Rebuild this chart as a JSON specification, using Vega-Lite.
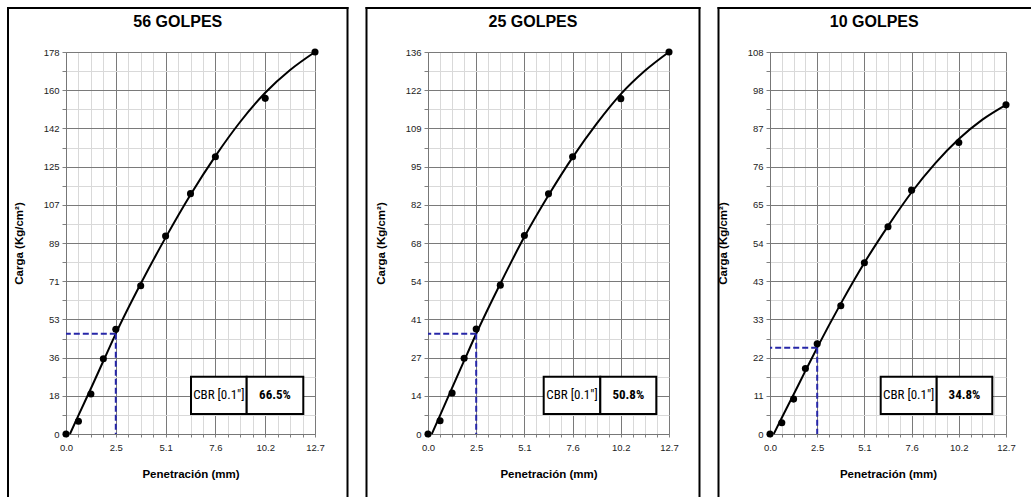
{
"$schema": "https://vega.github.io/schema/vega-lite/v6.json",
"padding": {"left": 6, "top": 6, "right": 0, "bottom": 0},
"background": "white",
"spacing": 16,
"config": {
  "font": "Liberation Sans",
  "view": {"stroke": null},
  "axis": {"labelFont": "Liberation Sans", "labelFontSize": 9.5, "labelColor": "#222222", "titleFont": "Liberation Sans", "titleFontSize": 11.5, "titleFontWeight": "bold", "titleColor": "#000000", "tickColor": "#808080", "domainColor": "#777777", "tickSize": 3, "tickCount": 25, "grid": true, "gridWidth": 1, "labelOverlap": false, "labelFlush": false, "labelBound": false},
  "title": {"font": "Liberation Sans"}
},
"datasets": {
  "p1": [{"pen":0,"carga":0},{"pen":0.635,"carga":5.9},{"pen":1.27,"carga":18.6},{"pen":1.905,"carga":35.1},{"pen":2.54,"carga":48.8},{"pen":3.81,"carga":69.1},{"pen":5.08,"carga":92.3},{"pen":6.35,"carga":112},{"pen":7.62,"carga":129.2},{"pen":10.16,"carga":156.4},{"pen":12.7,"carga":178}],
  "c1": [{"pen":0.2,"carga":0},{"pen":0.635,"carga":8.7},{"pen":1.27,"carga":21.2},{"pen":1.905,"carga":34},{"pen":2.54,"carga":46.8},{"pen":3.81,"carga":70},{"pen":5.08,"carga":91.5},{"pen":6.35,"carga":111.5},{"pen":7.62,"carga":129.5},{"pen":8.89,"carga":145.5},{"pen":10.16,"carga":159},{"pen":11.43,"carga":169.6},{"pen":12.7,"carga":178}],
  "k1": [{"pen":2.54,"carga":46.76,"label":"CBR [0.1\"]","cbr":"66.5%"}],
  "p2": [{"pen":0,"carga":0},{"pen":0.635,"carga":4.7},{"pen":1.27,"carga":14.6},{"pen":1.905,"carga":27},{"pen":2.54,"carga":37.4},{"pen":3.81,"carga":53},{"pen":5.08,"carga":70.7},{"pen":6.35,"carga":85.5},{"pen":7.62,"carga":98.7},{"pen":10.16,"carga":119.4},{"pen":12.7,"carga":136}],
  "c2": [{"pen":0.2,"carga":0},{"pen":0.635,"carga":6.6},{"pen":1.27,"carga":16.4},{"pen":1.905,"carga":26.1},{"pen":2.54,"carga":35.7},{"pen":3.81,"carga":53.5},{"pen":5.08,"carga":70.2},{"pen":6.35,"carga":85},{"pen":7.62,"carga":98.5},{"pen":8.89,"carga":110.5},{"pen":10.16,"carga":121},{"pen":11.43,"carga":129.3},{"pen":12.7,"carga":136}],
  "k2": [{"pen":2.54,"carga":35.72,"label":"CBR [0.1\"]","cbr":"50.8%"}],
  "p3": [{"pen":0,"carga":0},{"pen":0.635,"carga":3.2},{"pen":1.27,"carga":9.9},{"pen":1.905,"carga":18.6},{"pen":2.54,"carga":25.6},{"pen":3.81,"carga":36.4},{"pen":5.08,"carga":48.6},{"pen":6.35,"carga":58.8},{"pen":7.62,"carga":69.2},{"pen":10.16,"carga":82.7},{"pen":12.7,"carga":93.4}],
  "c3": [{"pen":0.2,"carga":0},{"pen":0.635,"carga":4.6},{"pen":1.27,"carga":11.2},{"pen":1.905,"carga":17.9},{"pen":2.54,"carga":24.5},{"pen":3.81,"carga":37},{"pen":5.08,"carga":48.6},{"pen":6.35,"carga":59},{"pen":7.62,"carga":68.6},{"pen":8.89,"carga":76.8},{"pen":10.16,"carga":83.7},{"pen":11.43,"carga":89.2},{"pen":12.7,"carga":93.4}],
  "k3": [{"pen":2.54,"carga":24.47,"label":"CBR [0.1\"]","cbr":"34.8%"}]
},
"hconcat": [
{
  "width": 249, "height": 382,
  "title": {"text": "56 GOLPES", "offset": -36, "baseline": "alphabetic", "frame": "bounds", "anchor": "middle", "fontSize": 16, "fontWeight": "bold", "color": "#000000"},
  "layer": [
    {"data": {"name": "c1"}, "mark": {"type": "line", "interpolate": "monotone", "color": "#000000", "strokeWidth": 2},
     "encoding": {
       "x": {"field": "pen", "type": "quantitative", "scale": {"domain": [0, 12.7], "nice": false, "zero": false},
             "axis": {"values": [0,0.635,1.27,1.905,2.54,3.175,3.81,4.445,5.08,5.715,6.35,6.985,7.62,8.255,8.89,9.525,10.16,10.795,11.43,12.065,12.7], "tickCount": 25, "title": "Penetración (mm)", "titlePadding": 17, "labelPadding": 5,
                      "labelExpr": "abs(datum.value/2.54 - round(datum.value/2.54)) < 0.01 ? format(datum.value, '.1f') : ''",
                      "gridColor": {"condition": {"test": "abs(datum.value/2.54 - round(datum.value/2.54)) < 0.01", "value": "#7a7a7a"}, "value": "#d9d9d9"}}},
       "y": {"field": "carga", "type": "quantitative", "scale": {"domain": [0, 178], "nice": false, "zero": false},
             "axis": {"values": [0,8.9,17.8,26.7,35.6,44.5,53.4,62.3,71.2,80.1,89,97.9,106.8,115.7,124.6,133.5,142.4,151.3,160.2,169.1,178], "tickCount": 25, "title": "Carga (Kg/cm²)", "titlePadding": 19, "labelPadding": 3, "tickSize": 4,
                      "labelExpr": "abs(datum.value/17.8 - round(datum.value/17.8)) < 0.01 ? format(datum.value, '.0f') : ''",
                      "gridColor": {"condition": {"test": "abs(datum.value/17.8 - round(datum.value/17.8)) < 0.01", "value": "#7a7a7a"}, "value": "#d9d9d9"}}}
     }},
    {"data": {"name": "k1"}, "mark": {"type": "rule", "color": "#2626a8", "strokeWidth": 2, "strokeDash": [6, 3]},
     "encoding": {"x": {"field": "pen", "type": "quantitative", "scale": {"domain": [0, 12.7], "nice": false, "zero": false}}, "x2": {"datum": 0},
                  "y": {"field": "carga", "type": "quantitative", "scale": {"domain": [0, 178], "nice": false, "zero": false}}}},
    {"data": {"name": "k1"}, "mark": {"type": "rule", "color": "#2626a8", "strokeWidth": 2, "strokeDash": [6, 3]},
     "encoding": {"x": {"field": "pen", "type": "quantitative", "scale": {"domain": [0, 12.7], "nice": false, "zero": false}},
                  "y": {"field": "carga", "type": "quantitative", "scale": {"domain": [0, 178], "nice": false, "zero": false}}, "y2": {"datum": 0}}},
    {"data": {"name": "p1"}, "mark": {"type": "point", "filled": true, "color": "#000000", "size": 50, "opacity": 1},
     "encoding": {"x": {"field": "pen", "type": "quantitative", "scale": {"domain": [0, 12.7], "nice": false, "zero": false}},
                  "y": {"field": "carga", "type": "quantitative", "scale": {"domain": [0, 178], "nice": false, "zero": false}}}},
    {"data": {"name": "k1"}, "mark": {"type": "rect", "fill": "#ffffff", "stroke": "#000000", "strokeWidth": 2},
     "encoding": {"x": {"datum": 6.376, "type": "quantitative", "scale": {"domain": [0, 12.7], "nice": false, "zero": false}}, "x2": {"datum": 9.216},
                  "y": {"datum": 9.32, "type": "quantitative", "scale": {"domain": [0, 178], "nice": false, "zero": false}}, "y2": {"datum": 26.7}}},
    {"data": {"name": "k1"}, "mark": {"type": "rect", "fill": "#ffffff", "stroke": "#000000", "strokeWidth": 2},
     "encoding": {"x": {"datum": 9.216, "type": "quantitative", "scale": {"domain": [0, 12.7], "nice": false, "zero": false}}, "x2": {"datum": 12.103},
                  "y": {"datum": 9.32, "type": "quantitative", "scale": {"domain": [0, 178], "nice": false, "zero": false}}, "y2": {"datum": 26.7}}},
    {"data": {"name": "k1"}, "mark": {"type": "text", "font": "Roboto Condensed, Roboto, sans-serif", "fontSize": 13, "color": "#000000", "align": "center", "baseline": "middle"},
     "encoding": {"x": {"datum": 7.796, "type": "quantitative", "scale": {"domain": [0, 12.7], "nice": false, "zero": false}},
                  "y": {"datum": 18.0, "type": "quantitative", "scale": {"domain": [0, 178], "nice": false, "zero": false}}, "text": {"field": "label", "type": "nominal"}}},
    {"data": {"name": "k1"}, "mark": {"type": "text", "font": "Roboto Condensed, Roboto, sans-serif", "fontSize": 13, "fontWeight": "bold", "color": "#000000", "align": "center", "baseline": "middle"},
     "encoding": {"x": {"datum": 10.66, "type": "quantitative", "scale": {"domain": [0, 12.7], "nice": false, "zero": false}},
                  "y": {"datum": 18.0, "type": "quantitative", "scale": {"domain": [0, 178], "nice": false, "zero": false}}, "text": {"field": "cbr", "type": "nominal"}}},
    {"data": {"name": "k1"}, "mark": {"type": "rule", "color": "#000000", "strokeWidth": 2, "strokeCap": "square"},
     "encoding": {"x": {"datum": -2.958, "type": "quantitative", "scale": {"domain": [0, 12.7], "nice": false, "zero": false}},
                  "y": {"datum": -28.89, "type": "quantitative", "scale": {"domain": [0, 178], "nice": false, "zero": false}}, "y2": {"datum": 198.5}}},
    {"data": {"name": "k1"}, "mark": {"type": "rule", "color": "#000000", "strokeWidth": 2, "strokeCap": "square"},
     "encoding": {"x": {"datum": 14.358, "type": "quantitative", "scale": {"domain": [0, 12.7], "nice": false, "zero": false}},
                  "y": {"datum": -28.89, "type": "quantitative", "scale": {"domain": [0, 178], "nice": false, "zero": false}}, "y2": {"datum": 198.5}}},
    {"data": {"name": "k1"}, "mark": {"type": "rule", "color": "#000000", "strokeWidth": 2, "strokeCap": "square"},
     "encoding": {"x": {"datum": -2.958, "type": "quantitative", "scale": {"domain": [0, 12.7], "nice": false, "zero": false}}, "x2": {"datum": 14.358},
                  "y": {"datum": 198.5, "type": "quantitative", "scale": {"domain": [0, 178], "nice": false, "zero": false}}}}
  ]
},
{
  "width": 241, "height": 382,
  "title": {"text": "25 GOLPES", "offset": -36, "baseline": "alphabetic", "frame": "bounds", "anchor": "middle", "fontSize": 16, "fontWeight": "bold", "color": "#000000"},
  "layer": [
    {"data": {"name": "c2"}, "mark": {"type": "line", "interpolate": "monotone", "color": "#000000", "strokeWidth": 2},
     "encoding": {
       "x": {"field": "pen", "type": "quantitative", "scale": {"domain": [0, 12.7], "nice": false, "zero": false},
             "axis": {"values": [0,0.635,1.27,1.905,2.54,3.175,3.81,4.445,5.08,5.715,6.35,6.985,7.62,8.255,8.89,9.525,10.16,10.795,11.43,12.065,12.7], "tickCount": 25, "title": "Penetración (mm)", "titlePadding": 17, "labelPadding": 5,
                      "labelExpr": "abs(datum.value/2.54 - round(datum.value/2.54)) < 0.01 ? format(datum.value, '.1f') : ''",
                      "gridColor": {"condition": {"test": "abs(datum.value/2.54 - round(datum.value/2.54)) < 0.01", "value": "#7a7a7a"}, "value": "#d9d9d9"}}},
       "y": {"field": "carga", "type": "quantitative", "scale": {"domain": [0, 136], "nice": false, "zero": false},
             "axis": {"values": [0,6.8,13.6,20.4,27.2,34,40.8,47.6,54.4,61.2,68,74.8,81.6,88.4,95.2,102,108.8,115.6,122.4,129.2,136], "tickCount": 25, "title": "Carga (Kg/cm²)", "titlePadding": 19, "labelPadding": 3, "tickSize": 4,
                      "labelExpr": "abs(datum.value/13.6 - round(datum.value/13.6)) < 0.01 ? format(datum.value, '.0f') : ''",
                      "gridColor": {"condition": {"test": "abs(datum.value/13.6 - round(datum.value/13.6)) < 0.01", "value": "#7a7a7a"}, "value": "#d9d9d9"}}}
     }},
    {"data": {"name": "k2"}, "mark": {"type": "rule", "color": "#2626a8", "strokeWidth": 2, "strokeDash": [6, 3]},
     "encoding": {"x": {"field": "pen", "type": "quantitative", "scale": {"domain": [0, 12.7], "nice": false, "zero": false}}, "x2": {"datum": 0},
                  "y": {"field": "carga", "type": "quantitative", "scale": {"domain": [0, 136], "nice": false, "zero": false}}}},
    {"data": {"name": "k2"}, "mark": {"type": "rule", "color": "#2626a8", "strokeWidth": 2, "strokeDash": [6, 3]},
     "encoding": {"x": {"field": "pen", "type": "quantitative", "scale": {"domain": [0, 12.7], "nice": false, "zero": false}},
                  "y": {"field": "carga", "type": "quantitative", "scale": {"domain": [0, 136], "nice": false, "zero": false}}, "y2": {"datum": 0}}},
    {"data": {"name": "p2"}, "mark": {"type": "point", "filled": true, "color": "#000000", "size": 50, "opacity": 1},
     "encoding": {"x": {"field": "pen", "type": "quantitative", "scale": {"domain": [0, 12.7], "nice": false, "zero": false}},
                  "y": {"field": "carga", "type": "quantitative", "scale": {"domain": [0, 136], "nice": false, "zero": false}}}},
    {"data": {"name": "k2"}, "mark": {"type": "rect", "fill": "#ffffff", "stroke": "#000000", "strokeWidth": 2},
     "encoding": {"x": {"datum": 6.097, "type": "quantitative", "scale": {"domain": [0, 12.7], "nice": false, "zero": false}}, "x2": {"datum": 9.08},
                  "y": {"datum": 7.12, "type": "quantitative", "scale": {"domain": [0, 136], "nice": false, "zero": false}}, "y2": {"datum": 20.4}}},
    {"data": {"name": "k2"}, "mark": {"type": "rect", "fill": "#ffffff", "stroke": "#000000", "strokeWidth": 2},
     "encoding": {"x": {"datum": 9.08, "type": "quantitative", "scale": {"domain": [0, 12.7], "nice": false, "zero": false}}, "x2": {"datum": 12.031},
                  "y": {"datum": 7.12, "type": "quantitative", "scale": {"domain": [0, 136], "nice": false, "zero": false}}, "y2": {"datum": 20.4}}},
    {"data": {"name": "k2"}, "mark": {"type": "text", "font": "Roboto Condensed, Roboto, sans-serif", "fontSize": 13, "color": "#000000", "align": "center", "baseline": "middle"},
     "encoding": {"x": {"datum": 7.589, "type": "quantitative", "scale": {"domain": [0, 12.7], "nice": false, "zero": false}},
                  "y": {"datum": 13.76, "type": "quantitative", "scale": {"domain": [0, 136], "nice": false, "zero": false}}, "text": {"field": "label", "type": "nominal"}}},
    {"data": {"name": "k2"}, "mark": {"type": "text", "font": "Roboto Condensed, Roboto, sans-serif", "fontSize": 13, "fontWeight": "bold", "color": "#000000", "align": "center", "baseline": "middle"},
     "encoding": {"x": {"datum": 10.555, "type": "quantitative", "scale": {"domain": [0, 12.7], "nice": false, "zero": false}},
                  "y": {"datum": 13.76, "type": "quantitative", "scale": {"domain": [0, 136], "nice": false, "zero": false}}, "text": {"field": "cbr", "type": "nominal"}}},
    {"data": {"name": "k2"}, "mark": {"type": "rule", "color": "#000000", "strokeWidth": 2, "strokeCap": "square"},
     "encoding": {"x": {"datum": -3.241, "type": "quantitative", "scale": {"domain": [0, 12.7], "nice": false, "zero": false}},
                  "y": {"datum": -22.07, "type": "quantitative", "scale": {"domain": [0, 136], "nice": false, "zero": false}}, "y2": {"datum": 151.67}}},
    {"data": {"name": "k2"}, "mark": {"type": "rule", "color": "#000000", "strokeWidth": 2, "strokeCap": "square"},
     "encoding": {"x": {"datum": 14.307, "type": "quantitative", "scale": {"domain": [0, 12.7], "nice": false, "zero": false}},
                  "y": {"datum": -22.07, "type": "quantitative", "scale": {"domain": [0, 136], "nice": false, "zero": false}}, "y2": {"datum": 151.67}}},
    {"data": {"name": "k2"}, "mark": {"type": "rule", "color": "#000000", "strokeWidth": 2, "strokeCap": "square"},
     "encoding": {"x": {"datum": -3.241, "type": "quantitative", "scale": {"domain": [0, 12.7], "nice": false, "zero": false}}, "x2": {"datum": 14.307},
                  "y": {"datum": 151.67, "type": "quantitative", "scale": {"domain": [0, 136], "nice": false, "zero": false}}}}
  ]
},
{
  "width": 236, "height": 382,
  "title": {"text": "10 GOLPES", "offset": -36, "baseline": "alphabetic", "frame": "bounds", "anchor": "middle", "fontSize": 16, "fontWeight": "bold", "color": "#000000"},
  "layer": [
    {"data": {"name": "c3"}, "mark": {"type": "line", "interpolate": "monotone", "color": "#000000", "strokeWidth": 2},
     "encoding": {
       "x": {"field": "pen", "type": "quantitative", "scale": {"domain": [0, 12.7], "nice": false, "zero": false},
             "axis": {"values": [0,0.635,1.27,1.905,2.54,3.175,3.81,4.445,5.08,5.715,6.35,6.985,7.62,8.255,8.89,9.525,10.16,10.795,11.43,12.065,12.7], "tickCount": 25, "title": "Penetración (mm)", "titlePadding": 17, "labelPadding": 5,
                      "labelExpr": "abs(datum.value/2.54 - round(datum.value/2.54)) < 0.01 ? format(datum.value, '.1f') : ''",
                      "gridColor": {"condition": {"test": "abs(datum.value/2.54 - round(datum.value/2.54)) < 0.01", "value": "#7a7a7a"}, "value": "#d9d9d9"}}},
       "y": {"field": "carga", "type": "quantitative", "scale": {"domain": [0, 108.4], "nice": false, "zero": false},
             "axis": {"values": [0,5.42,10.84,16.26,21.68,27.1,32.52,37.94,43.36,48.78,54.2,59.62,65.04,70.46,75.88,81.3,86.72,92.14,97.56,102.98,108.4], "tickCount": 25, "title": "Carga (Kg/cm²)", "titlePadding": 19, "labelPadding": 3, "tickSize": 4,
                      "labelExpr": "abs(datum.value/10.84 - round(datum.value/10.84)) < 0.01 ? format(datum.value, '.0f') : ''",
                      "gridColor": {"condition": {"test": "abs(datum.value/10.84 - round(datum.value/10.84)) < 0.01", "value": "#7a7a7a"}, "value": "#d9d9d9"}}}
     }},
    {"data": {"name": "k3"}, "mark": {"type": "rule", "color": "#2626a8", "strokeWidth": 2, "strokeDash": [6, 3]},
     "encoding": {"x": {"field": "pen", "type": "quantitative", "scale": {"domain": [0, 12.7], "nice": false, "zero": false}}, "x2": {"datum": 0},
                  "y": {"field": "carga", "type": "quantitative", "scale": {"domain": [0, 108.4], "nice": false, "zero": false}}}},
    {"data": {"name": "k3"}, "mark": {"type": "rule", "color": "#2626a8", "strokeWidth": 2, "strokeDash": [6, 3]},
     "encoding": {"x": {"field": "pen", "type": "quantitative", "scale": {"domain": [0, 12.7], "nice": false, "zero": false}},
                  "y": {"field": "carga", "type": "quantitative", "scale": {"domain": [0, 108.4], "nice": false, "zero": false}}, "y2": {"datum": 0}}},
    {"data": {"name": "p3"}, "mark": {"type": "point", "filled": true, "color": "#000000", "size": 50, "opacity": 1},
     "encoding": {"x": {"field": "pen", "type": "quantitative", "scale": {"domain": [0, 12.7], "nice": false, "zero": false}},
                  "y": {"field": "carga", "type": "quantitative", "scale": {"domain": [0, 108.4], "nice": false, "zero": false}}}},
    {"data": {"name": "k3"}, "mark": {"type": "rect", "fill": "#ffffff", "stroke": "#000000", "strokeWidth": 2},
     "encoding": {"x": {"datum": 5.957, "type": "quantitative", "scale": {"domain": [0, 12.7], "nice": false, "zero": false}}, "x2": {"datum": 8.971},
                  "y": {"datum": 5.675, "type": "quantitative", "scale": {"domain": [0, 108.4], "nice": false, "zero": false}}, "y2": {"datum": 16.26}}},
    {"data": {"name": "k3"}, "mark": {"type": "rect", "fill": "#ffffff", "stroke": "#000000", "strokeWidth": 2},
     "encoding": {"x": {"datum": 8.971, "type": "quantitative", "scale": {"domain": [0, 12.7], "nice": false, "zero": false}}, "x2": {"datum": 11.963},
                  "y": {"datum": 5.675, "type": "quantitative", "scale": {"domain": [0, 108.4], "nice": false, "zero": false}}, "y2": {"datum": 16.26}}},
    {"data": {"name": "k3"}, "mark": {"type": "text", "font": "Roboto Condensed, Roboto, sans-serif", "fontSize": 13, "color": "#000000", "align": "center", "baseline": "middle"},
     "encoding": {"x": {"datum": 7.464, "type": "quantitative", "scale": {"domain": [0, 12.7], "nice": false, "zero": false}},
                  "y": {"datum": 10.97, "type": "quantitative", "scale": {"domain": [0, 108.4], "nice": false, "zero": false}}, "text": {"field": "label", "type": "nominal"}}},
    {"data": {"name": "k3"}, "mark": {"type": "text", "font": "Roboto Condensed, Roboto, sans-serif", "fontSize": 13, "fontWeight": "bold", "color": "#000000", "align": "center", "baseline": "middle"},
     "encoding": {"x": {"datum": 10.467, "type": "quantitative", "scale": {"domain": [0, 12.7], "nice": false, "zero": false}},
                  "y": {"datum": 10.97, "type": "quantitative", "scale": {"domain": [0, 108.4], "nice": false, "zero": false}}, "text": {"field": "cbr", "type": "nominal"}}},
    {"data": {"name": "k3"}, "mark": {"type": "rule", "color": "#000000", "strokeWidth": 2, "strokeCap": "square"},
     "encoding": {"x": {"datum": -2.771, "type": "quantitative", "scale": {"domain": [0, 12.7], "nice": false, "zero": false}},
                  "y": {"datum": -17.59, "type": "quantitative", "scale": {"domain": [0, 108.4], "nice": false, "zero": false}}, "y2": {"datum": 120.89}}},
    {"data": {"name": "k3"}, "mark": {"type": "rule", "color": "#000000", "strokeWidth": 2, "strokeCap": "square"},
     "encoding": {"x": {"datum": -2.771, "type": "quantitative", "scale": {"domain": [0, 12.7], "nice": false, "zero": false}}, "x2": {"datum": 13.991},
                  "y": {"datum": 120.89, "type": "quantitative", "scale": {"domain": [0, 108.4], "nice": false, "zero": false}}}}
  ]
}
]
}
